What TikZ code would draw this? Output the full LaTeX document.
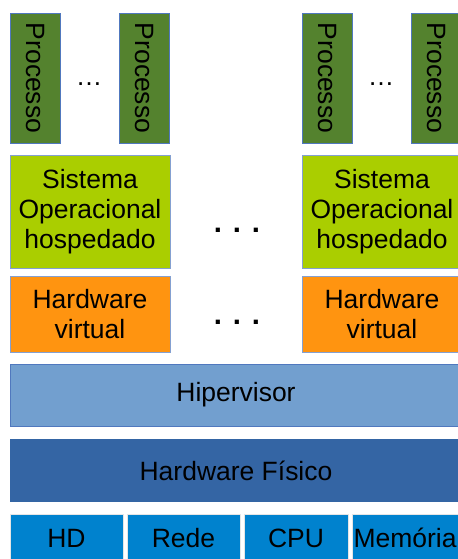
\documentclass[tikz,border=0pt]{standalone}
\usepackage{fontspec}
\setmainfont{Liberation Sans}
\definecolor{procgreen}{RGB}{84,130,46}
\definecolor{sogreen}{RGB}{170,206,0}
\definecolor{hworange}{RGB}{255,148,16}
\definecolor{hiperblue}{RGB}{114,159,207}
\definecolor{fisblue}{RGB}{52,101,164}
\definecolor{partblue}{RGB}{0,130,206}
\definecolor{edgeblue}{RGB}{80,120,190}
\begin{document}
\begin{tikzpicture}[font=\fontsize{22.6}{25.4}\selectfont,
  procbox/.style={draw=edgeblue, fill=procgreen, rotate=-90, minimum width=3.9cm, minimum height=1.5cm, inner sep=0pt},
  sobox/.style={draw=edgeblue!70, fill=sogreen, minimum width=4.8cm, minimum height=3.39cm, align=center, inner sep=0pt},
  hwvbox/.style={draw=edgeblue!70, fill=hworange, minimum width=4.8cm, minimum height=2.28cm, align=center, inner sep=0pt},
  layer/.style={minimum width=13.56cm, inner sep=0pt},
  part/.style={draw=white!80!gray, fill=partblue, text height=0.99cm, text depth=0.51cm, inner sep=0pt},
  dots/.style={font=\fontsize{25}{25}\selectfont\bfseries, anchor=base}]
  % pilha de virtualizacao: processos, SO hospedado, hardware virtual, hipervisor e hardware fisico
  \useasboundingbox (0,0) rectangle (13.71,-16.77);
  \node[procbox] (p1) at (1.05,-2.34) {Processo};
  \node[procbox] (p2) at (4.32,-2.34) {Processo};
  \node[procbox] (p3) at (9.81,-2.34) {Processo};
  \node[procbox] (p4) at (13.08,-2.34) {Processo};
  \node[anchor=base] (d1) at (2.67,-2.55) {\dots};
  \node[anchor=base] (d2) at (11.43,-2.55) {\dots};
  \node[sobox] (so1) at (2.70,-6.345) {Sistema\\Operacional\\hospedado};
  \node[sobox] (so2) at (11.46,-6.345) {Sistema\\Operacional\\hospedado};
  \node[dots] (d3) at (7.11,-6.96) {. . .};
  \node[hwvbox] (hv1) at (2.70,-9.42) {Hardware\\virtual};
  \node[hwvbox] (hv2) at (11.46,-9.42) {Hardware\\virtual};
  \node[dots] (d4) at (7.11,-9.72) {. . .};
  \node[layer, draw=edgeblue, fill=hiperblue, minimum height=1.86cm] (hip) at (7.08,-11.85) {Hipervisor};
  \node[layer, fill=fisblue, minimum height=1.89cm] (fis) at (7.08,-14.115) {Hardware Físico};
  \node[part, minimum width=3.39cm] (hd) at (1.995,-16.17) {HD};
  \node[part, minimum width=3.39cm] (rede) at (5.505,-16.17) {Rede};
  \node[part, minimum width=3.12cm] (cpu) at (8.88,-16.17) {CPU};
  \node[part, minimum width=3.18cm] (mem) at (12.15,-16.17) {Memória};
\end{tikzpicture}
\end{document}
